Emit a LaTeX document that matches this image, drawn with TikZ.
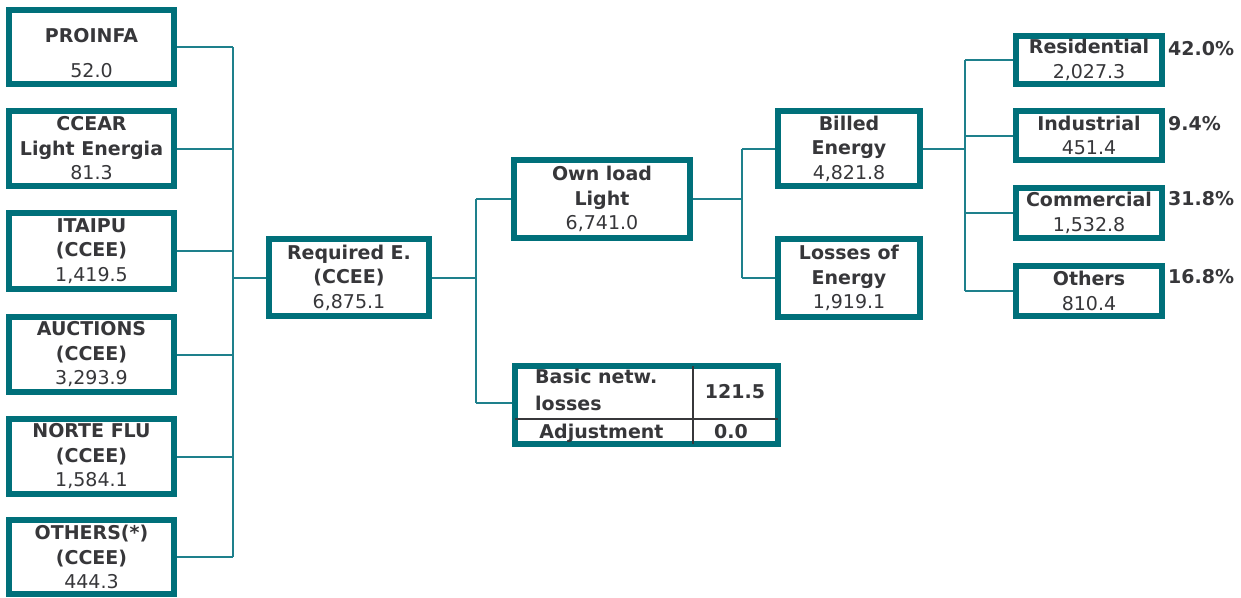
\documentclass[tikz,border=0pt]{standalone}
\usepackage{fontspec}
\setmainfont{DejaVu Sans}
\definecolor{teal1}{RGB}{0,112,122}
\definecolor{teal2}{RGB}{30,128,140}
\definecolor{txt}{RGB}{55,55,58}
\begin{document}
\begin{tikzpicture}[x=1pt,y=-1pt,
  box/.style={draw=teal1, line width=6pt, fill=white, inner sep=0pt, align=center,
    text=txt, font=\fontsize{19}{24.5}\selectfont},
  conn/.style={draw=teal2, line width=2pt},
  pct/.style={text=txt, font=\fontsize{19}{22}\selectfont\bfseries, inner sep=0pt, anchor=base west},
  cell/.style={text=txt, font=\fontsize{19}{27}\selectfont\bfseries, inner sep=0pt, anchor=base}]
\useasboundingbox (0,0) rectangle (1241,597);
% left column
\node[box, minimum width=165, minimum height=74] (p1) at (91.5,47) {\rule{0pt}{26pt}\textbf{PROINFA}\\[10pt]52.0};
\node[box, minimum width=165, minimum height=75] (p2) at (91.5,148.5) {\textbf{CCEAR}\\\textbf{Light Energia}\\81.3};
\node[box, minimum width=165, minimum height=76] (p3) at (91.5,251) {\textbf{ITAIPU}\\\textbf{(CCEE)}\\1,419.5};
\node[box, minimum width=165, minimum height=75] (p4) at (91.5,354.5) {\textbf{AUCTIONS}\\\textbf{(CCEE)}\\3,293.9};
\node[box, minimum width=165, minimum height=75] (p5) at (91.5,456.5) {\textbf{NORTE FLU}\\\textbf{(CCEE)}\\1,584.1};
\node[box, minimum width=165, minimum height=74] (p6) at (91.5,557) {\textbf{OTHERS(*)}\\\textbf{(CCEE)}\\444.3};
% required
\node[box, minimum width=160, minimum height=77] (req) at (349,277.5) {\textbf{Required E.}\\\textbf{(CCEE)}\\6,875.1};
\node[box, minimum width=176, minimum height=78] (own) at (602,199) {\textbf{Own load}\\\textbf{Light}\\6,741.0};
\node[box, minimum width=263, minimum height=78] (tab) at (646.5,405) {};
\node[box, minimum width=142, minimum height=75] (bil) at (849,148.5) {\textbf{Billed}\\\textbf{Energy}\\4,821.8};
\node[box, minimum width=142, minimum height=78] (los) at (849,278) {\textbf{Losses of}\\\textbf{Energy}\\1,919.1};
% right column
\node[box, minimum width=146, minimum height=48] (r1) at (1089,60) {\textbf{Residential}\\2,027.3};
\node[box, minimum width=146, minimum height=49] (r2) at (1089,135.5) {\textbf{Industrial}\\451.4};
\node[box, minimum width=146, minimum height=50] (r3) at (1089,213) {\textbf{Commercial}\\1,532.8};
\node[box, minimum width=146, minimum height=50] (r4) at (1089,291) {\textbf{Others}\\810.4};
\node[pct] (q1) at (1168,55) {42.0\%};
\node[pct] (q2) at (1168,130) {9.4\%};
\node[pct] (q3) at (1168,205) {31.8\%};
\node[pct] (q4) at (1168,283) {16.8\%};
% table internals
\draw[txt, line width=1.2pt] (693,366) -- (693,444);
\draw[txt, line width=1.2pt] (515,419) -- (778,419);
\node[text=txt, font=\fontsize{19}{27}\selectfont\bfseries, inner sep=0pt, anchor=base west] (t1) at (535,383) {Basic netw.};
\node[text=txt, font=\fontsize{19}{27}\selectfont\bfseries, inner sep=0pt, anchor=base west] (t2) at (535,410) {losses};
\node[cell] (t3) at (735,398) {121.5};
\node[cell] (t4) at (601.5,438) {Adjustment};
\node[cell] (t5) at (731,438) {0.0};
% bus coordinates
\coordinate (b1t) at (233,47);
\coordinate (b1b) at (233,557);
\coordinate (b2t) at (476,199);
\coordinate (b2b) at (476,403);
\coordinate (b3t) at (742,148.5);
\coordinate (b3b) at (742,278);
\coordinate (b4t) at (965,60);
\coordinate (b4b) at (965,291);
% connectors
\foreach \n in {p1,p2,p3,p4,p5,p6} \draw[conn] (\n.east) -- (\n.east -| b1t);
\draw[conn] (b1t) -- (b1b);
\draw[conn] (req.west -| b1t) -- (req.west);
\draw[conn] (req.east) -- (req.east -| b2t);
\draw[conn] (b2t) -- (b2b);
\draw[conn] (b2t) -- (own.west);
\draw[conn] (b2b) -- (tab.west |- b2b);
\draw[conn] (own.east) -- (own.east -| b3t);
\draw[conn] (b3t) -- (b3b);
\draw[conn] (b3t) -- (bil.west);
\draw[conn] (b3b) -- (los.west);
\draw[conn] (bil.east) -- (bil.east -| b4t);
\draw[conn] (b4t) -- (b4b);
\foreach \n in {r1,r2,r3,r4} \draw[conn] (\n.west -| b4t) -- (\n.west);
\end{tikzpicture}
\end{document}
